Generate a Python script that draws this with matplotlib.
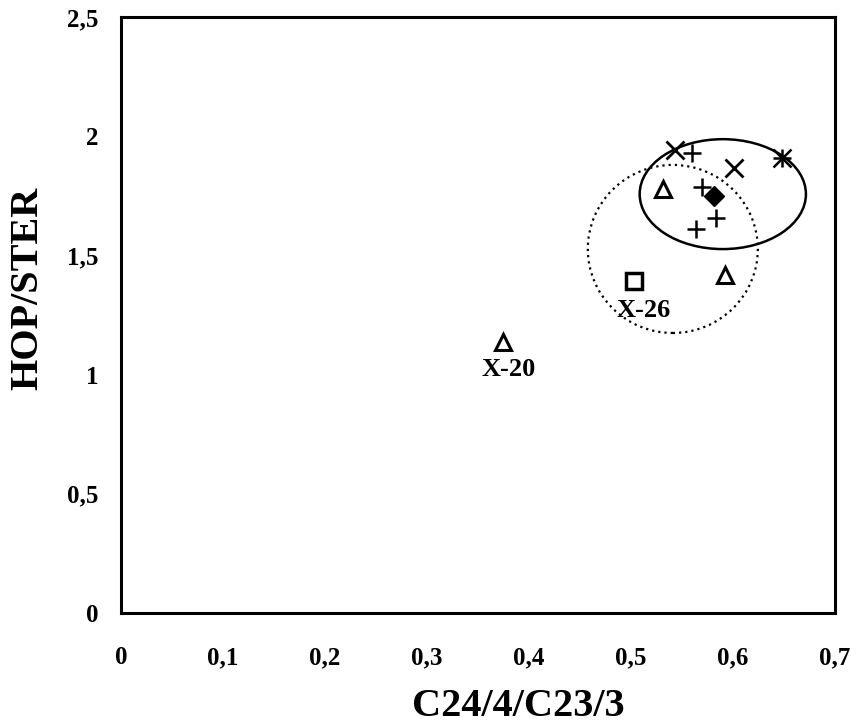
#!/usr/bin/env python3

import matplotlib
matplotlib.use("Agg")
import matplotlib.pyplot as plt
from matplotlib.patches import Ellipse
from matplotlib.ticker import FuncFormatter

# data
x_cross = [0.543, 0.601]
y_cross = [1.942, 1.867]
x_plus = [0.560, 0.570, 0.583, 0.564]
y_plus = [1.93, 1.787, 1.657, 1.61]
x_star = [0.648]
y_star = [1.909]
x_tri = [0.531, 0.592, 0.3745]
y_tri = [1.78, 1.418, 1.137]
x_sq = [0.503]
y_sq = [1.393]
x_dia = [0.581]
y_dia = [1.75]

labels = ["X-26", "X-20"]
label_x = [0.512, 0.380]
label_y = [1.27, 1.02]

xticks = [0, 0.1, 0.2, 0.3, 0.4, 0.5, 0.6, 0.7]
yticks = [0, 0.5, 1, 1.5, 2, 2.5]

plt.rcParams['font.family'] = ['Liberation Serif', 'DejaVu Serif']
plt.rcParams['font.weight'] = 'bold'

fig = plt.figure(figsize=(8.61, 7.27), dpi=100)
ax = fig.add_axes([121/861, 1 - 613/727, 714/861, 596/727])

ax.set_xlim(0, 0.7)
ax.set_ylim(0, 2.5)

ms = 13
ax.plot(x_cross, y_cross, ls='none', marker='x', ms=ms, mew=2, color='black')
ax.plot(x_plus, y_plus, ls='none', marker='+', ms=ms, mew=1.8, color='black')
ax.plot(x_star, y_star, ls='none', marker='x', ms=ms, mew=1.8, color='black')
ax.plot(x_star, y_star, ls='none', marker='+', ms=ms, mew=1.8, color='black')
ax.plot(x_tri, y_tri, ls='none', marker='^', ms=11.5, mew=2.2, mfc='white', color='black')
ax.plot(x_sq, y_sq, ls='none', marker='s', ms=12, mew=2.5, mfc='white', color='black')
ax.plot(x_dia, y_dia, ls='none', marker='D', ms=10.5, color='black')

# groups
ax.add_patch(Ellipse((0.590, 1.757), 0.163, 0.461, fill=False, lw=1.8, ec='black'))
ax.add_patch(Ellipse((0.541, 1.527), 0.1667, 0.705, fill=False, lw=1.6,
                     ec='black', ls=(0, (1, 1.8))))

for t, lx, ly in zip(labels, label_x, label_y):
    ax.text(lx, ly, t, ha='center', va='center', fontsize=19, fontweight='bold')

ax.set_xticks(xticks)
ax.set_yticks(yticks)
fmt = FuncFormatter(lambda v, p: ('%g' % v).replace('.', ','))
ax.xaxis.set_major_formatter(fmt)
ax.yaxis.set_major_formatter(fmt)
ax.tick_params(length=0, labelsize=18)
ax.tick_params(axis='x', pad=24)
ax.tick_params(axis='y', pad=16)
for s in ax.spines.values():
    s.set_linewidth(2.2)

ax.set_xlabel('C24/4/C23/3', fontsize=29, fontweight='bold')
ax.xaxis.set_label_coords(0.557, -0.125)
ax.set_ylabel('HOP/STER', fontsize=29, fontweight='bold')
ax.yaxis.set_label_coords(-0.104, 0.545)

fig.savefig('out.png', dpi=100)
